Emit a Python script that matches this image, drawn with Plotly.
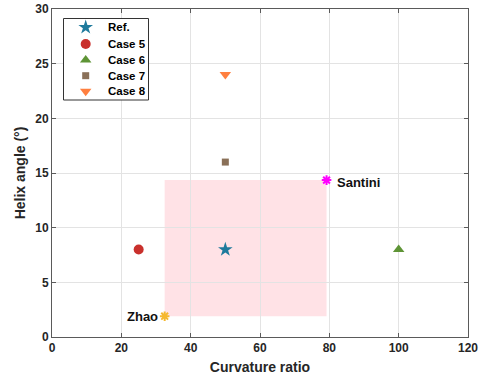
import plotly.graph_objects as go

names = ["Ref.", "Case 5", "Case 6", "Case 7", "Case 8"]
cx = [50, 25, 100, 50, 50]
cy = [8, 8, 8, 16, 24]
symbols = ["star", "circle", "triangle-up", "square", "triangle-down"]
colors = ["#1F7A9C", "#C9302C", "#5E9436", "#8A7058", "#FF7F3F"]
sizes = [11, 10, 10, 7, 10]

lit_names = ["Zhao", "Santini"]
lit_x = [32.5, 79.2]
lit_y = [1.9, 14.35]
lit_colors = ["#F5B82E", "#FF00FF"]

rect_x = [32.5, 79.2]
rect_y = [1.9, 14.35]

# plot area in pixels
L, R, T, B = 52, 13, 9, 41
W, H = 481, 378
PW, PH = W - L - R, H - T - B

fig = go.Figure()
fig.add_shape(type="rect", x0=rect_x[0], x1=rect_x[1], y0=rect_y[0], y1=rect_y[1],
              fillcolor="rgba(255,182,193,0.4)", line=dict(width=0), layer="below")

for n, x, y, s, c, sz in zip(names, cx, cy, symbols, colors, sizes):
    fig.add_trace(go.Scatter(x=[x], y=[y], mode="markers", name=n, showlegend=False,
                             marker=dict(symbol=s, color=c, size=sz, line=dict(width=0))))

for n, x, y, c in zip(lit_names, lit_x, lit_y, lit_colors):
    fig.add_trace(go.Scatter(x=[x], y=[y], mode="markers", showlegend=False,
                             marker=dict(symbol="asterisk-open", color=c, size=8,
                                         line=dict(color=c, width=2))))

fig.add_annotation(x=lit_x[0], y=lit_y[0], text="<b>Zhao</b>", showarrow=False,
                   xanchor="right", xshift=-5, font=dict(size=13, color="#111"))
fig.add_annotation(x=lit_x[1], y=lit_y[1], text="<b>Santini</b>", showarrow=False,
                   xanchor="left", xshift=8, yshift=-2, font=dict(size=13, color="#111"))

# custom legend on a pixel overlay axis
bx0, bx1, by0, by1 = 11.5, 96.5, 9.5, 91
row_y = [18.3, 35, 51, 66.7, 82.3]
mark_x = 33.7
text_x = 54
fig.add_trace(go.Scatter(x=[bx0, bx1, bx1, bx0, bx0], y=[by0, by0, by1, by1, by0],
                         xaxis="x2", yaxis="y2", mode="lines", fill="toself",
                         fillcolor="white", line=dict(color="#333", width=1),
                         showlegend=False, hoverinfo="skip"))
for n, s, c, sz, ry in zip(names, symbols, colors, sizes, row_y):
    fig.add_trace(go.Scatter(x=[mark_x], y=[ry], xaxis="x2", yaxis="y2", mode="markers",
                             showlegend=False, hoverinfo="skip",
                             marker=dict(symbol=s, color=c, size=sz, line=dict(width=0))))
    fig.add_annotation(x=text_x, y=ry, xref="x2", yref="y2", text="<b>" + n + "</b>",
                       showarrow=False, xanchor="left",
                       font=dict(size=11.5, color="#000"))

axis_common = dict(showline=True, linecolor="#5a5a5a", linewidth=1, mirror="ticks",
                   ticks="inside", ticklen=4, tickcolor="#5a5a5a", automargin=False,
                   showgrid=True, gridcolor="#e3e3e3", gridwidth=1, zeroline=False,
                   tickfont=dict(family="Liberation Sans", size=12, color="#262626"))

fig.update_xaxes(range=[0, 120], dtick=20,
                 title=dict(text="<b>Curvature ratio</b>", standoff=7,
                            font=dict(family="Liberation Sans", size=14, color="#262626")),
                 tickprefix="<b>", ticksuffix="</b>", **axis_common)
fig.update_yaxes(range=[0, 30], dtick=5,
                 title=dict(text="<b>Helix angle (°)</b>", standoff=6,
                            font=dict(family="Liberation Sans", size=14, color="#262626")),
                 tickprefix="<b>", ticksuffix="</b>", **axis_common)

fig.update_layout(
    width=W, height=H,
    margin=dict(l=L, r=R, t=T, b=B),
    plot_bgcolor="white", paper_bgcolor="white",
    font=dict(family="Liberation Sans"),
    showlegend=False,
    xaxis2=dict(overlaying="x", range=[0, PW], visible=False, fixedrange=True),
    yaxis2=dict(overlaying="y", range=[PH, 0], visible=False, fixedrange=True),
)

fig.write_html("out.html")
